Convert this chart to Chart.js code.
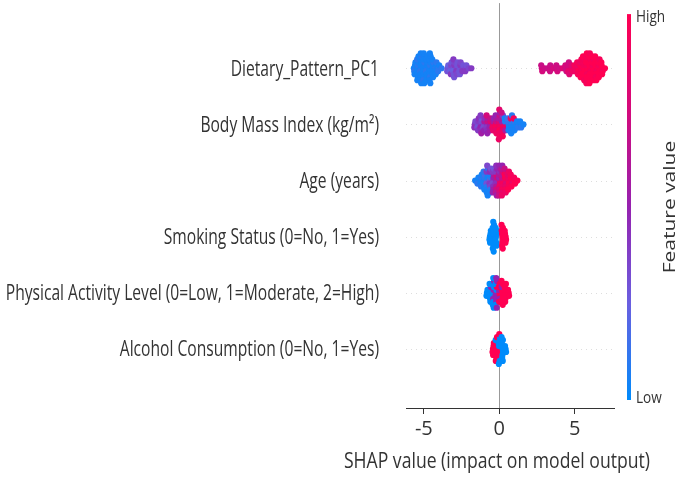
<!DOCTYPE html>
<html>
<head>
<meta charset="utf-8">
<script src="https://cdn.jsdelivr.net/npm/chart.js@4.4.1/dist/chart.umd.min.js"></script>
<style>
  html, body { margin: 0; padding: 0; background: #fff; }
  canvas { display: block; }
</style>
</head>
<body>
<canvas id="chart" width="677" height="480"></canvas>
<script>
// feature names, top row first
const features = [
  'Dietary_Pattern_PC1',
  'Body Mass Index (kg/m\u00B2)',
  'Age (years)',
  'Smoking Status (0=No, 1=Yes)',
  'Physical Activity Level (0=Low, 1=Moderate, 2=High)',
  'Alcohol Consumption (0=No, 1=Yes)'
]
const xTicks = [-5, 0, 5]
const xTitle = 'SHAP value (impact on model output)'
const colorbarTitle = 'Feature value'

// shap values and feature values (0 = low, 1 = high)
const dietaryShap = [
  -5.66, -5.58, -5.63, -5.55, -5.61,
  -5.42, -5.38, -5.45, -5.36, -5.41, -5.44, -5.39, -5.35, -5.43,
  -5.22, -5.18, -5.25, -5.16, -5.21, -5.24, -5.19, -5.15, -5.23, -5.2, -5.17,
  -5.02, -4.98, -5.05, -4.96, -5.01, -5.04, -4.99, -4.95, -5.03, -5.0, -4.97,
  -4.82, -4.78, -4.85, -4.76, -4.81, -4.84, -4.79, -4.75, -4.83,
  -4.62, -4.58, -4.65, -4.56, -4.61, -4.64, -4.59, -4.55, -4.63, -4.6, -4.57,
  -4.42, -4.38, -4.45, -4.36, -4.41, -4.44, -4.39,
  -4.22, -4.18, -4.25, -4.16, -4.21,
  -4.02, -3.98, -4.05,
  -3.82,
  -3.42, -3.38, -3.45,
  -3.22, -3.18, -3.25, -3.16, -3.21,
  -3.02, -2.98, -3.05, -2.96, -3.01, -3.04, -2.99,
  -2.82, -2.78, -2.85, -2.76, -2.81,
  -2.62, -2.58, -2.65, -2.56, -2.61,
  -2.42, -2.38, -2.45,
  -2.22, -2.18, -2.25,
  -2.02, -1.85,
  2.82, 2.78, 2.85, 3.0, 3.2, 3.42, 3.38, 3.36, 3.6, 3.82, 3.78, 3.85, 4.0, 4.2,
  4.42, 4.38, 4.45, 4.62, 4.58, 4.55, 4.61, 4.64, 4.82, 4.78, 4.85,
  5.02, 4.98, 5.05,
  5.22, 5.18, 5.25, 5.16, 5.21,
  5.42, 5.38, 5.45, 5.36, 5.41, 5.44, 5.39,
  5.62, 5.58, 5.65, 5.56, 5.61, 5.64, 5.59, 5.55, 5.63,
  5.82, 5.78, 5.85, 5.76, 5.81, 5.84, 5.79, 5.75, 5.83, 5.8, 5.77,
  6.02, 5.98, 6.05, 5.96, 6.01, 6.04, 5.99, 5.95, 6.03, 6.0, 5.97,
  6.22, 6.18, 6.25, 6.16, 6.21, 6.24, 6.19, 6.15, 6.23,
  6.42, 6.38, 6.45, 6.36, 6.41, 6.44, 6.39, 6.35, 6.43,
  6.62, 6.58, 6.65, 6.56, 6.61, 6.64, 6.59,
  6.82, 6.78, 6.85, 6.76, 6.81,
  7.0
]
const dietaryFeat = [
  0.05, 0.05, 0.1, 0.05, 0.05,
  0.05, 0.1, 0.05, 0.05, 0.05, 0.1, 0.05, 0.05, 0.05,
  0.05, 0.05, 0.1, 0.05, 0.05, 0.05, 0.05, 0.1, 0.05, 0.05, 0.05,
  0.05, 0.05, 0.05, 0.1, 0.05, 0.05, 0.05, 0.05, 0.1, 0.05, 0.05,
  0.05, 0.05, 0.1, 0.05, 0.05, 0.05, 0.05, 0.05, 0.05,
  0.05, 0.1, 0.05, 0.05, 0.05, 0.05, 0.1, 0.05, 0.05, 0.05, 0.05,
  0.05, 0.05, 0.05, 0.1, 0.05, 0.05, 0.05,
  0.1, 0.05, 0.05, 0.1, 0.05,
  0.1, 0.05, 0.1,
  0.1,
  0.3, 0.25, 0.3,
  0.3, 0.35, 0.25, 0.3, 0.4,
  0.3, 0.4, 0.25, 0.35, 0.3, 0.4, 0.3,
  0.35, 0.3, 0.4, 0.3, 0.35,
  0.3, 0.4, 0.3, 0.35, 0.3,
  0.35, 0.3, 0.4,
  0.35, 0.3, 0.4,
  0.35, 0.4,
  0.72, 0.7, 0.75, 0.72, 0.7, 0.75, 0.7, 0.72, 0.75, 0.7, 0.72, 0.75, 0.72, 0.8,
  0.72, 0.75, 0.7, 0.8, 0.75, 0.85, 0.72, 0.8, 0.85, 0.8, 0.9,
  0.9, 0.95, 0.9,
  0.95, 0.9, 1.0, 0.95, 0.95,
  0.95, 1.0, 0.95, 0.9, 1.0, 0.95, 1.0,
  1.0, 0.95, 1.0, 0.95, 1.0, 0.95, 1.0, 1.0, 0.95,
  1.0, 0.95, 1.0, 1.0, 0.95, 1.0, 1.0, 0.95, 1.0, 1.0, 0.95,
  1.0, 1.0, 0.95, 1.0, 1.0, 0.95, 1.0, 1.0, 1.0, 0.95, 1.0,
  1.0, 0.95, 1.0, 1.0, 1.0, 0.95, 1.0, 1.0, 1.0,
  1.0, 1.0, 0.95, 1.0, 1.0, 1.0, 0.95, 1.0, 1.0,
  1.0, 0.95, 1.0, 1.0, 1.0, 0.95, 1.0,
  1.0, 1.0, 0.95, 1.0, 1.0,
  1.0
]

const bmiShap = [
  -1.62, -1.58, -1.65,
  -1.42, -1.38, -1.45, -1.36, -1.41,
  -1.22, -1.18, -1.25, -1.16, -1.21, -1.24, -1.19,
  -1.02, -0.98, -1.05, -0.96, -1.01,
  -0.82, -0.78, -0.85, -0.76, -0.81, -0.84, -0.79,
  -0.62, -0.58, -0.65, -0.56, -0.61,
  -0.42, -0.38, -0.45, -0.36, -0.41,
  -0.22, -0.18, -0.25, -0.16, -0.21, -0.24, -0.19,
  0.02, -0.02, 0.05, -0.04, 0.01, 0.04, -0.01, 0.05, 0.03, 0.0, -0.03,
  0.22, 0.18, 0.25, 0.16, 0.21, 0.24, 0.19, 0.15, 0.23,
  0.42, 0.38, 0.45, 0.36, 0.41,
  0.62, 0.58, 0.65, 0.56, 0.61,
  0.82, 0.78, 0.85, 0.76, 0.81, 0.84, 0.79,
  1.02, 0.98, 1.05, 0.96, 1.01,
  1.22, 1.18, 1.25,
  1.42, 1.38, 1.45,
  1.6
]
const bmiFeat = [
  0.4, 0.35, 0.45,
  0.35, 0.4, 0.3, 0.45, 0.4,
  0.4, 0.35, 0.5, 0.3, 0.45, 0.4, 0.55,
  0.4, 0.6, 0.35, 0.45, 0.5,
  0.5, 0.7, 0.4, 0.6, 0.45, 0.75, 0.5,
  0.6, 0.8, 0.5, 0.7, 0.55,
  0.8, 0.6, 0.9, 0.5, 0.85,
  0.9, 0.7, 0.95, 0.6, 0.85, 0.5, 0.9,
  0.95, 0.8, 0.9, 0.6, 1.0, 0.7, 0.9, 0.5, 0.95, 0.85, 0.9,
  0.9, 0.5, 0.95, 0.6, 0.85, 0.4, 0.9, 0.7, 0.95,
  0.8, 0.1, 0.9, 0.05, 0.6,
  0.05, 0.1, 0.05, 0.15, 0.05,
  0.05, 0.1, 0.05, 0.9, 0.05, 0.1, 0.05,
  0.05, 0.1, 0.05, 0.95, 0.05,
  0.05, 0.05, 0.1,
  0.05, 0.05, 0.1,
  0.05
]

const ageShap = [
  -1.6,
  -1.42, -1.38, -1.45,
  -1.22, -1.18, -1.25, -1.16, -1.21,
  -1.02, -0.98, -1.05, -0.96, -1.01, -1.04, -0.99,
  -0.82, -0.78, -0.85, -0.76, -0.81, -0.84, -0.79, -0.75, -0.83, -0.8, -0.77,
  -0.62, -0.58, -0.65, -0.56, -0.61, -0.64, -0.59, -0.55, -0.63,
  -0.42, -0.38, -0.45, -0.36, -0.41, -0.44, -0.39, -0.35, -0.43,
  -0.22, -0.18, -0.25, -0.16, -0.21, -0.24, -0.19, -0.15, -0.23, -0.2, -0.17,
  0.02, -0.02, 0.05, -0.04, 0.01, 0.04, -0.01, 0.05, 0.03, 0.0, -0.03,
  0.22, 0.18, 0.25, 0.16, 0.21, 0.24, 0.19, 0.15, 0.23, 0.2, 0.17,
  0.42, 0.38, 0.45, 0.36, 0.41, 0.44, 0.39, 0.35, 0.43,
  0.62, 0.58, 0.65, 0.56, 0.61, 0.64, 0.59,
  0.82, 0.78, 0.85, 0.76, 0.81,
  1.02, 0.98, 1.05,
  1.2
]
const ageFeat = [
  0.05,
  0.05, 0.05, 0.1,
  0.05, 0.1, 0.05, 0.05, 0.1,
  0.05, 0.1, 0.05, 0.15, 0.05, 0.1, 0.05,
  0.1, 0.05, 0.3, 0.05, 0.1, 0.4, 0.05, 0.1, 0.05, 0.35, 0.05,
  0.3, 0.1, 0.4, 0.05, 0.35, 0.45, 0.1, 0.3, 0.05,
  0.4, 0.5, 0.35, 0.6, 0.45, 0.4, 0.55, 0.3, 0.5,
  0.5, 0.7, 0.45, 0.8, 0.6, 0.4, 0.75, 0.5, 0.65, 0.45, 0.55,
  0.7, 0.5, 0.85, 0.6, 0.9, 0.45, 0.75, 0.55, 0.8, 0.5, 0.7,
  0.85, 0.7, 0.95, 0.6, 0.9, 0.75, 0.95, 0.65, 0.85, 0.5, 0.9,
  0.9, 0.95, 0.8, 1.0, 0.85, 0.9, 0.95, 0.7, 0.9,
  0.95, 0.9, 1.0, 0.85, 0.95, 0.9, 1.0,
  0.95, 1.0, 0.9, 0.95, 1.0,
  1.0, 0.95, 1.0,
  1.0
]

const smokingShap = [
  -0.62, -0.58, -0.65, -0.56, -0.61,
  -0.42, -0.38, -0.45, -0.36, -0.41, -0.44, -0.39, -0.35, -0.43, -0.4, -0.37,
  -0.22, -0.18, -0.25, -0.16, -0.21, -0.24, -0.19,
  0.22, 0.18, 0.25, 0.16, 0.21, 0.24, 0.19, 0.15, 0.23,
  0.42, 0.38, 0.45, 0.36, 0.41
]
const smokingFeat = [
  0, 0, 0, 0, 0,
  0, 0, 0, 0, 0, 0, 0, 0, 0, 0, 0,
  0, 0, 0, 0, 0, 0, 0,
  1, 1, 1, 1, 1, 1, 1, 1, 1,
  1, 1, 1, 1, 1
]

const activityShap = [
  -0.82, -0.78, -0.85,
  -0.62, -0.58, -0.65, -0.56, -0.61, -0.64, -0.59,
  -0.42, -0.38, -0.45, -0.36, -0.41, -0.44, -0.39, -0.35, -0.43, -0.4, -0.37,
  -0.22, -0.18, -0.25, -0.16, -0.21, -0.24, -0.19, -0.15, -0.23, -0.2, -0.17,
  0.02, -0.02, 0.05, -0.04, 0.01, 0.04, -0.01,
  0.22, 0.18, 0.25, 0.16, 0.21, 0.24, 0.19, 0.15, 0.23,
  0.42, 0.38, 0.45, 0.36, 0.41, 0.44, 0.39,
  0.62, 0.58, 0.65
]
const activityFeat = [
  0, 0, 0,
  0, 0, 0, 0.5, 0, 0, 0,
  0, 0.5, 0, 0, 0.5, 0, 0, 0.5, 0, 0, 0,
  0.5, 0, 0.5, 1, 0.5, 0, 0.5, 0.5, 0, 0.5, 0.5,
  1, 0.5, 1, 1, 0.5, 1, 1,
  1, 1, 1, 0.5, 1, 1, 1, 1, 1,
  1, 1, 1, 1, 1, 1, 1,
  1, 1, 1
]

const alcoholShap = [
  -0.42, -0.38, -0.45, -0.36, -0.41,
  -0.22, -0.18, -0.25, -0.16, -0.21, -0.24, -0.19, -0.15, -0.23,
  0.02, -0.02, 0.05, -0.04, 0.01, 0.04, -0.01, 0.05, 0.03, 0.0, -0.03,
  0.22, 0.18, 0.25, 0.16, 0.21, 0.24, 0.19, 0.15, 0.23,
  0.42, 0.38, 0.45
]
const alcoholFeat = [
  1, 1, 1, 1, 1,
  1, 1, 1, 1, 1, 0, 1, 1, 1,
  1, 0, 1, 0, 1, 0, 1, 0, 0, 1, 0,
  0, 0, 0, 0, 0, 0, 0, 0, 0,
  0, 0, 0
]

const rows = [
  [dietaryShap, dietaryFeat],
  [bmiShap, bmiFeat],
  [ageShap, ageFeat],
  [smokingShap, smokingFeat],
  [activityShap, activityFeat],
  [alcoholShap, alcoholFeat]
]

const BIN = 0.2      // shap units per swarm bin
const STEP = 0.053   // vertical spacing between stacked dots (row units)
const SQUEEZE = 0.8  // horizontal text squeeze seen in the picture
const LABEL_SQUEEZE = 0.71
const FONT = '"Open Sans", "Noto Sans", sans-serif'
const TEXT = '#333333'
const HIGH = '#ff0052'
const stops = [[0, [0, 139, 251]], [0.25, [106, 95, 224]], [0.5, [150, 34, 176]], [0.75, [212, 10, 124]], [1, [255, 0, 82]]]

const colorFor = (v) => {
  for (let i = 1; i < stops.length; i++) {
    if (v <= stops[i][0]) {
      const [a, ca] = stops[i - 1]
      const [b, cb] = stops[i]
      const t = (v - a) / (b - a)
      const c = ca.map((c0, k) => Math.round(c0 + (cb[k] - c0) * t))
      return `rgb(${c[0]},${c[1]},${c[2]})`
    }
  }
  return HIGH
}

// beeswarm stacking: dots in the same bin alternate above / below the row line
const swarm = (xs, row) => {
  const counts = {}
  return xs.map((x) => {
    const bin = Math.round(x / BIN)
    const layer = counts[bin] || 0
    counts[bin] = layer + 1
    const off = Math.ceil(layer / 2) * (layer % 2 ? 1 : -1)
    return { x, y: row + off * STEP }
  })
}

const datasets = rows.map(([xs, fv], i) => {
  const row = features.length - 1 - i
  return {
    label: features[i],
    data: swarm(xs, row),
    pointRadius: 3.1,
    pointHoverRadius: 3.1,
    borderWidth: 0,
    backgroundColor: fv.map(colorFor)
  }
})

const squeezedText = (ctx, text, x, y, align, k) => {
  ctx.save()
  ctx.translate(x, y)
  ctx.scale(k || SQUEEZE, 1)
  ctx.textAlign = align
  ctx.fillText(text, 0, 0)
  ctx.restore()
}

const backdrop = {
  id: 'backdrop',
  beforeDatasetsDraw(chart) {
    const { ctx, chartArea, scales } = chart
    ctx.save()
    // dotted row guides
    ctx.strokeStyle = '#dddddd'
    ctx.lineWidth = 1
    ctx.setLineDash([1, 4])
    features.forEach((f, i) => {
      const y = Math.round(scales.y.getPixelForValue(i)) + 0.5
      ctx.beginPath()
      ctx.moveTo(chartArea.left, y)
      ctx.lineTo(chartArea.right, y)
      ctx.stroke()
    })
    ctx.setLineDash([])
    // zero line
    const x0 = Math.round(scales.x.getPixelForValue(0)) + 0.5
    ctx.strokeStyle = '#999999'
    ctx.beginPath()
    ctx.moveTo(x0, chartArea.top)
    ctx.lineTo(x0, chartArea.bottom)
    ctx.stroke()
    ctx.restore()
  },
  afterDraw(chart) {
    const { ctx, chartArea, scales } = chart
    ctx.save()
    ctx.fillStyle = TEXT
    ctx.textBaseline = 'middle'
    ctx.font = `22px ${FONT}`
    features.forEach((name, i) => {
      const y = scales.y.getPixelForValue(features.length - 1 - i)
      squeezedText(ctx, name, chartArea.left - 27, y + 1, 'right', LABEL_SQUEEZE)
    })
    squeezedText(ctx, xTitle, 497, 462, 'center')

    // colour bar
    const bx = chartArea.right + 13
    const top = chartArea.top + 11
    const bottom = chartArea.bottom - 8
    const grad = ctx.createLinearGradient(0, bottom, 0, top)
    stops.forEach(([p, c]) => grad.addColorStop(p, `rgb(${c[0]},${c[1]},${c[2]})`))
    ctx.fillStyle = grad
    ctx.fillRect(bx, top, 4, bottom - top)

    ctx.fillStyle = TEXT
    ctx.font = `17px ${FONT}`
    squeezedText(ctx, 'High', bx + 9, top + 3, 'left')
    squeezedText(ctx, 'Low', bx + 9, bottom - 2, 'left')

    ctx.font = `21px ${FONT}`
    ctx.save()
    ctx.translate(bx + 43, (top + bottom) / 2)
    ctx.scale(SQUEEZE, 1)
    ctx.rotate(-Math.PI / 2)
    ctx.textAlign = 'center'
    ctx.fillText(colorbarTitle, 0, 0)
    ctx.restore()
    ctx.restore()
  }
}

const chart = new Chart(document.getElementById('chart'), {
  type: 'scatter',
  data: { datasets },
  options: {
    responsive: false,
    animation: false,
    events: [],
    layout: { padding: { left: 406, right: 63, top: 0, bottom: 0 } },
    plugins: {
      legend: { display: false },
      tooltip: { enabled: false }
    },
    scales: {
      x: {
        type: 'linear',
        min: -6.18,
        max: 7.6,
        afterBuildTicks: (scale) => { scale.ticks = xTicks.map(v => ({ value: v })) },
        afterFit: (scale) => { scale.height = 72 },
        border: { display: true, color: '#333333', width: 1 },
        grid: { drawOnChartArea: false, drawTicks: true, tickLength: 6, color: '#333333' },
        ticks: { color: TEXT, padding: 3, font: { family: FONT, size: 20 } }
      },
      y: {
        type: 'linear',
        min: -1.05,
        max: 6.16,
        display: false
      }
    }
  },
  plugins: [backdrop]
})
</script>
</body>
</html>
